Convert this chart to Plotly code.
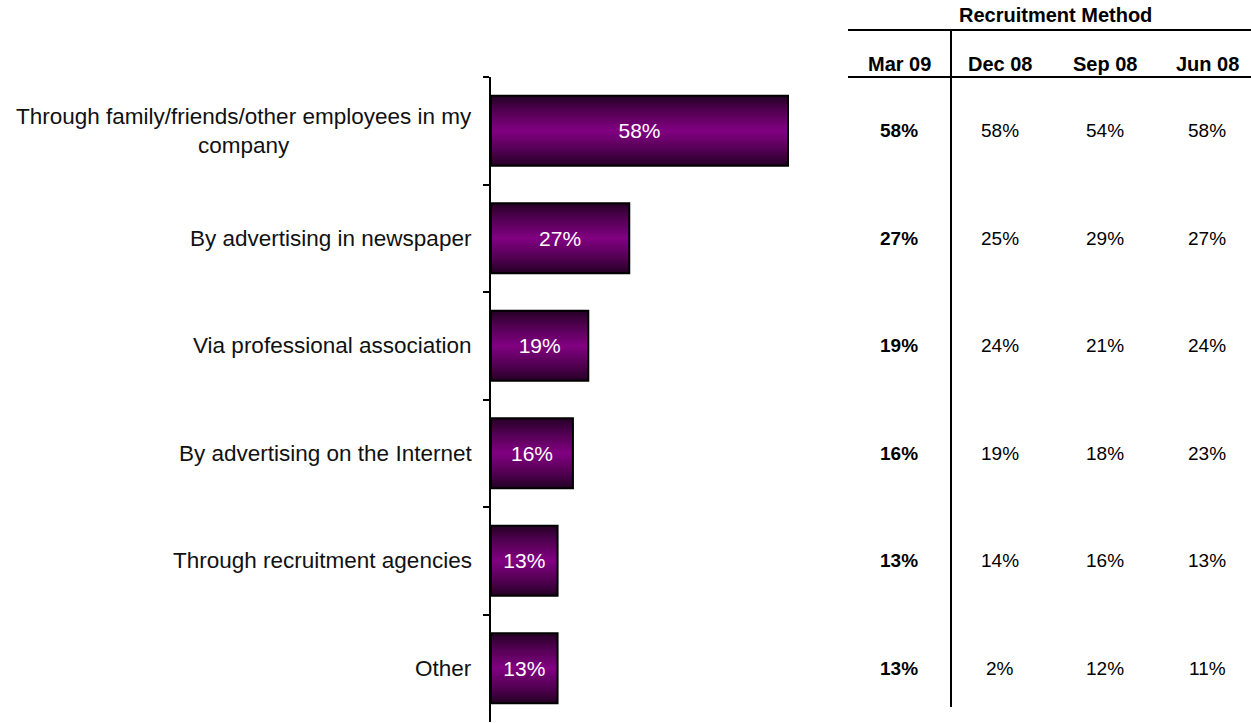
import plotly.graph_objects as go

# Recruitment methods, top to bottom
methods = [
    "Through family/friends/other employees in my<br>company",
    "By advertising in newspaper",
    "Via professional association",
    "By advertising on the Internet",
    "Through recruitment agencies",
    "Other",
]
# Current wave (bar values, %)
mar09 = [58, 27, 19, 16, 13, 13]
# Earlier waves shown in the table (%)
dec08 = [58, 25, 24, 19, 14, 2]
sep08 = [54, 29, 21, 18, 16, 12]
jun08 = [58, 27, 24, 23, 13, 11]
waves = ["Mar 09", "Dec 08", "Sep 08", "Jun 08"]
table_title = "Recruitment Method"

W, H = 1251, 723
FONT = "Liberation Sans, Arial, sans-serif"

def px_x(p):
    return p / W

def px_y(p):
    return 1 - p / H

fig = go.Figure()

# Bars with a vertical shading: dark edges fading to purple at the middle,
# built from stacked, progressively thinner bars.
dark = (36, 0, 36)
purple = (128, 0, 128)
bar_w = 0.65
layers = 30
for k in range(layers):
    t = k / (layers - 1)
    g = t ** 0.85
    c = tuple(round(dark[i] + (purple[i] - dark[i]) * g) for i in range(3))
    fig.add_trace(go.Bar(
        x=mar09, y=methods, orientation="h",
        width=bar_w * (1 - k / layers),
        marker=dict(color="rgb(%d,%d,%d)" % c, line=dict(width=0)),
        hoverinfo="skip", showlegend=False,
    ))

# Outline and value labels
fig.add_trace(go.Bar(
    x=mar09, y=methods, orientation="h", width=bar_w,
    marker=dict(color="rgba(0,0,0,0)", line=dict(color="black", width=2)),
    texttemplate="%{x}%", textposition="inside", insidetextanchor="middle",
    textfont=dict(color="white", size=21, family=FONT),
    constraintext="none", cliponaxis=False,
    showlegend=False,
))

# Category labels, centred on multi-line text, right-aligned to the axis
for m in methods:
    fig.add_annotation(
        x=px_x(490), xref="paper", y=m, yref="y",
        text=m, showarrow=False, xanchor="right", yanchor="middle",
        align="center", xshift=-16,
        font=dict(size=22.5, family=FONT, color="#111111"),
    )

# Table on the right
col_x = [899, 1000, 1105, 1207]
fig.add_annotation(
    x=px_x(1055), xref="paper", y=px_y(15), yref="paper",
    text="<b>%s</b>" % table_title, showarrow=False,
    xanchor="center", yanchor="middle",
    font=dict(size=20, family=FONT, color="black"),
)
for cx, wname in zip(col_x, waves):
    fig.add_annotation(
        x=px_x(cx), xref="paper", y=px_y(64), yref="paper",
        text="<b>%s</b>" % wname, showarrow=False,
        xanchor="center", yanchor="middle",
        font=dict(size=20, family=FONT, color="black"),
    )
for ci, (cx, col) in enumerate(zip(col_x, [mar09, dec08, sep08, jun08])):
    for m, v in zip(methods, col):
        label = "%d%%" % v
        if ci == 0:
            label = "<b>%s</b>" % label
        fig.add_annotation(
            x=px_x(cx), xref="paper", y=m, yref="y",
            text=label, showarrow=False,
            xanchor="center", yanchor="middle",
            font=dict(size=19, family=FONT, color="black"),
        )

line = dict(color="black", width=2)
fig.add_shape(type="line", xref="paper", yref="paper",
              x0=px_x(848), x1=1, y0=px_y(30), y1=px_y(30), line=line)
fig.add_shape(type="line", xref="paper", yref="paper",
              x0=px_x(848), x1=1, y0=px_y(77), y1=px_y(77), line=line)
fig.add_shape(type="line", xref="paper", yref="paper",
              x0=px_x(951), x1=px_x(951), y0=px_y(30), y1=px_y(707), line=line)

x_max = 60
px_per_unit = (788 - 491) / 58.0
fig.update_layout(
    width=W, height=H,
    margin=dict(l=0, r=0, t=0, b=0),
    paper_bgcolor="white", plot_bgcolor="white",
    barmode="overlay",
    font=dict(family=FONT),
    xaxis=dict(
        domain=[px_x(491), px_x(491 + px_per_unit * x_max)],
        range=[0, x_max], visible=False,
    ),
    yaxis=dict(
        domain=[px_y(722), px_y(77)],
        type="category", categoryorder="array", categoryarray=methods,
        autorange="reversed",
        showticklabels=False, showgrid=False, zeroline=False,
        showline=True, linecolor="black", linewidth=2,
        ticks="outside", ticklen=6, tickwidth=2, tickcolor="black",
        tickson="boundaries",
    ),
)

fig.write_html("out.html")
